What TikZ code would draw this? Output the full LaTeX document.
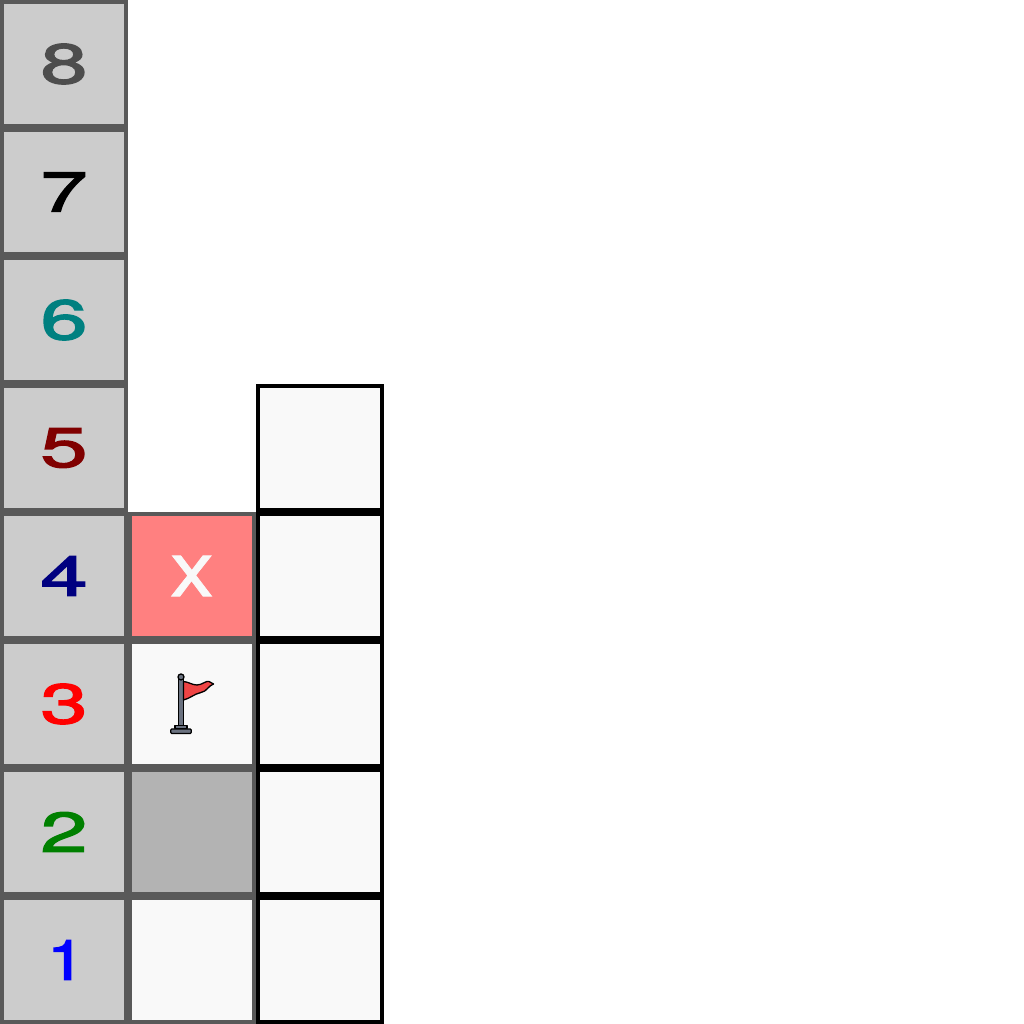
\documentclass[tikz,border=0pt]{standalone}
\usepackage{fontspec}
\setmainfont[FakeBold=2.2]{TeX Gyre Heros}
\newfontfamily\xfont[FakeBold=0.9]{TeX Gyre Heros}
\definecolor{cellgrey}{HTML}{CCCCCC}
\definecolor{edgegrey}{HTML}{595959}
\definecolor{paper}{HTML}{F9F9F9}
\definecolor{wall}{HTML}{B3B3B3}
\definecolor{hit}{HTML}{FF8080}
\definecolor{flagred}{HTML}{EF4444}
\definecolor{polegrey}{HTML}{6B7280}
\definecolor{dteal}{HTML}{008080}
\definecolor{dmaroon}{HTML}{800000}
\definecolor{dnavy}{HTML}{000080}
\definecolor{dgreen}{HTML}{008000}
\definecolor{dgrey}{HTML}{4D4D4D}
\newcommand{\digit}[3][1.5]{\textcolor{#2}{\scalebox{#1}[1]{\fontsize{56}{56}\selectfont #3}}}
\tikzset{
  x=1pt,y=1pt,
  cellbox/.style={rectangle,draw,line width=4pt,minimum width=124pt,minimum height=124pt,inner sep=0pt,outer sep=0pt},
  labelcell/.style={cellbox,draw=edgegrey,fill=cellgrey},
  midcell/.style={cellbox,draw=edgegrey,fill=paper},
  wallcell/.style={cellbox,draw=edgegrey,fill=wall},
  hitcell/.style={cellbox,draw=edgegrey,fill=hit},
  blackcell/.style={cellbox,draw=black,fill=paper},
  flagline/.style={draw=black,line width=1.3pt,line join=round}
}
\begin{document}
\begin{tikzpicture}
\useasboundingbox (0,0) rectangle (1024,1024);
\fill[white] (0,0) rectangle (1024,1024);
\node[labelcell] (l8) at (64,960) {\digit{dgrey}{8}};
\node[labelcell] (l7) at (64,832) {\digit{black}{7}};
\node[labelcell] (l6) at (64,704) {\digit{dteal}{6}};
\node[labelcell] (l5) at (64,576) {\digit{dmaroon}{5}};
\node[labelcell] (l4) at (64,448) {\digit{dnavy}{4}};
\node[labelcell] (l3) at (64,320) {\digit{red}{3}};
\node[labelcell] (l2) at (64,192) {\digit{dgreen}{2}};
\node[labelcell] (l1) at (64,64) {\hspace{4pt}\digit[1.2]{blue}{1}};
\node[hitcell] (m4) at (192,448) {\textcolor{paper}{\scalebox{1.14}[1]{\xfont\fontsize{77}{77}\selectfont x}}};
\node[midcell] (m3) at (192,320) {};
\node[wallcell] (m2) at (192,192) {};
\node[midcell] (m1) at (192,64) {};
\node[blackcell] (r5) at (320,576) {};
\node[blackcell] (r4) at (320,448) {};
\node[blackcell] (r3) at (320,320) {};
\node[blackcell] (r2) at (320,192) {};
\node[blackcell] (r1) at (320,64) {};
% flag (y = 1024 - image y)
\path[flagline,fill=polegrey] (178.5,345) rectangle (183.5,298);
\path[flagline,fill=polegrey] (181,347) circle (3);
\path[flagline,fill=flagred] (183.5,342.5) .. controls (189,342) and (192,339) .. (197,339)
  .. controls (202,339) and (206,343.5) .. (209,342.5)
  .. controls (211,342) and (212,341) .. (213.5,340)
  .. controls (208,338) and (207,332.5) .. (201,331.5)
  .. controls (194,330) and (190,325.5) .. (183.5,324) -- cycle;
\path[flagline,fill=polegrey] (175,295.5) -- (175,298.5) -- (187,298.5) -- (187,295.5) -- cycle;
\path[flagline,fill=polegrey,rounded corners=1pt] (170.8,290.5) -- (170.8,295) -- (191.2,295) -- (191.2,290.5) -- cycle;
\end{tikzpicture}
\end{document}
